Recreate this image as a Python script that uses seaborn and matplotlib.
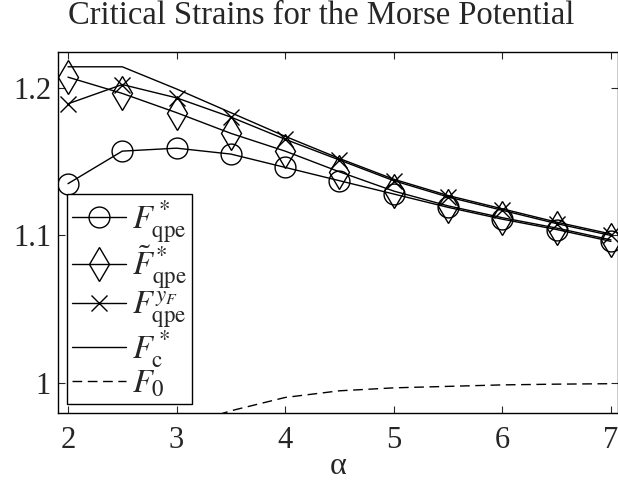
import matplotlib
matplotlib.use("Agg")
import matplotlib.pyplot as plt
import seaborn as sns

alpha = [2, 2.5, 3, 3.5, 4, 4.5, 5, 5.5, 6, 6.5, 7]
f_qpe = [1.135, 1.157, 1.159, 1.155, 1.146, 1.137, 1.128, 1.119, 1.111, 1.104, 1.096]
f_qpe_tilde = [1.207, 1.196, 1.183, 1.169, 1.157, 1.143, 1.130, 1.120, 1.112, 1.105, 1.097]
f_qpe_yf = [1.189, 1.202, 1.193, 1.180, 1.165, 1.151, 1.137, 1.126, 1.117, 1.108, 1.100]
f_c = [1.214, 1.214, 1.199, 1.183, 1.167, 1.152, 1.138, 1.127, 1.118, 1.109, 1.101]
f_0 = [0.93, 0.955, 0.970, 0.9815, 0.9905, 0.995, 0.997, 0.998, 0.999, 0.9995, 0.9998]

sns.set_style("ticks")
plt.rcParams["font.family"] = ["Liberation Serif", "DejaVu Serif"]
plt.rcParams["mathtext.fontset"] = "stix"
plt.rcParams["xtick.direction"] = "in"
plt.rcParams["ytick.direction"] = "in"

fig = plt.figure(figsize=(6.18, 4.88), dpi=100)
ax = fig.add_axes([58 / 618, 75 / 488, 560 / 618, 361 / 488])

lw = 1.0
sns.lineplot(x=alpha, y=f_qpe, ax=ax, color="k", lw=lw, marker="o", ms=15,
             mfc="none", mec="k", mew=1.0, label=r"$F^*_{\rm qpe}$")
sns.lineplot(x=alpha, y=f_qpe_tilde, ax=ax, color="k", lw=lw, marker="d", ms=17,
             mfc="none", mec="k", mew=1.0, label=r"$\tilde{F}^*_{\rm qpe}$")
sns.lineplot(x=alpha, y=f_qpe_yf, ax=ax, color="k", lw=lw, marker="x", ms=11,
             mec="k", mew=1.0, label=r"$F^{y_F}_{\rm qpe}$")
sns.lineplot(x=alpha, y=f_c, ax=ax, color="k", lw=lw, label=r"$F^*_{\rm c}$")
sns.lineplot(x=alpha, y=f_0, ax=ax, color="k", lw=lw, linestyle=(0, (7, 4)),
             label=r"$F_0$")

ax.set_xlim(1.908, 7.065)
ax.set_ylim(0.98, 1.224)
ax.set_xticks([2, 3, 4, 5, 6, 7])
ax.set_yticks([1.0, 1.1, 1.2])
ax.set_yticklabels(["1", "1.1", "1.2"])
ax.tick_params(labelsize=22, length=5, width=0.8, top=True, right=True)
ax.tick_params(axis="x", pad=9)
ax.tick_params(axis="y", pad=5)
for s in ax.spines.values():
    s.set_linewidth(1.0)
    s.set_color("k")
ax.set_xlabel("α", fontsize=23, labelpad=-2)
ax.set_ylabel("")

leg = ax.legend(loc="lower left", bbox_to_anchor=(0.016, 0.025), borderaxespad=0,
                fontsize=23.5, frameon=True, fancybox=False, framealpha=1,
                edgecolor="k", handlelength=1.65, handletextpad=0.2,
                labelspacing=-0.05, borderpad=0.15)
leg.get_frame().set_linewidth(1.0)

fig.text(321 / 618, 1 - 16 / 488, "Critical Strains for the Morse Potential",
         ha="center", va="center", fontsize=23.5)

fig.savefig("out.png", dpi=100)
